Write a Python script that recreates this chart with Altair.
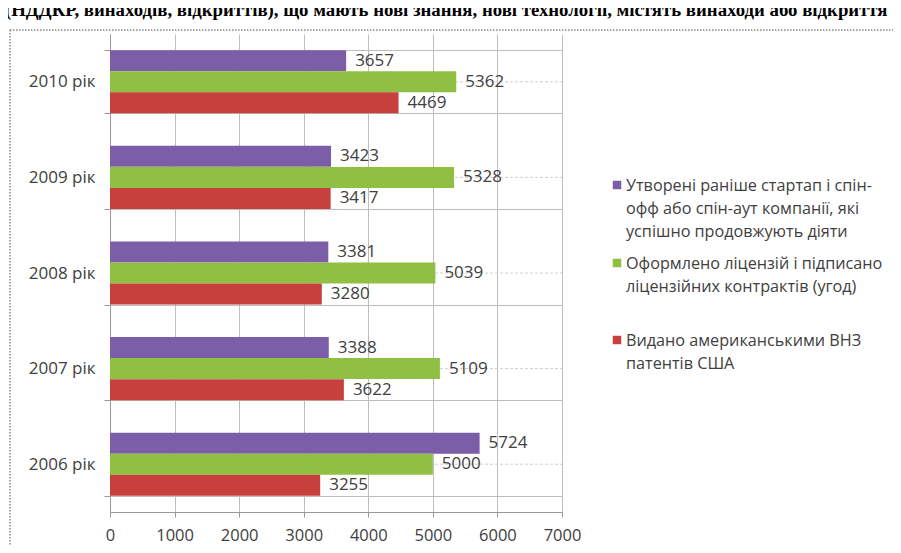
import altair as alt
import pandas as pd

# ---- data ----
years = ["2010 рік", "2009 рік", "2008 рік", "2007 рік", "2006 рік"]
series = [
    "Утворені раніше стартап і спін-офф або спін-аут компанії, які успішно продовжують діяти",
    "Оформлено ліцензій і підписано ліцензійних контрактів (угод)",
    "Видано американськими ВНЗ патентів США",
]
legend_lines = [
    ["Утворені раніше стартап і спін-", "офф або спін-аут компанії, які", "успішно продовжують діяти"],
    ["Оформлено ліцензій і підписано", "ліцензійних контрактів (угод)"],
    ["Видано американськими ВНЗ", "патентів США"],
]
startups = [3657, 3423, 3381, 3388, 5724]
licenses = [5362, 5328, 5039, 5109, 5000]
patents = [4469, 3417, 3280, 3622, 3255]
x_ticks = [0, 1000, 2000, 3000, 4000, 5000, 6000, 7000]
title_text = "(НДДКР, винаходів, відкриттів), що мають нові знання, нові технології, містять винаходи або відкриття"
colors = ["#7C5DA8", "#8FBF43", "#C8403D"]

rows = []
for i, y in enumerate(years):
    for s, vals in zip(series, [startups, licenses, patents]):
        rows.append({"year": y, "series": s, "value": vals[i]})
df = pd.DataFrame(rows)
df_years = pd.DataFrame({"year": years})
one = pd.DataFrame({"a": [0]})

W, H = 452, 478
FONT = "Open Sans"
TXT = "#404040"

y_enc = alt.Y(
    "year:N", sort=years, title=None,
    scale=alt.Scale(paddingInner=0.34, paddingOuter=0.17),
    axis=alt.Axis(
        tickBand="extent", grid=True, gridColor="#bdbdbd", gridWidth=1,
        domainColor="#9a9a9a", tickColor="#9a9a9a", tickSize=6,
        labelPadding=9, labelFont=FONT, labelFontSize=17, labelColor=TXT,
    ),
)
x_enc = alt.X(
    "value:Q", title=None,
    scale=alt.Scale(domain=[0, 7000], nice=False),
    axis=alt.Axis(
        values=x_ticks, grid=True, gridColor="#bdbdbd", gridWidth=1,
        domainColor="#9a9a9a", tickColor="#9a9a9a", tickSize=5,
        labelPadding=10, labelFont=FONT, labelFontSize=16.5, labelColor=TXT,
        labelFlush=False, labelOverlap=False, format="d",
    ),
)
yoff = alt.YOffset("series:N", sort=series, scale=alt.Scale(paddingInner=0, paddingOuter=0))

center_rules = alt.Chart(df_years).mark_rule(color="#cfcfcf", strokeDash=[3, 2]).encode(
    y=y_enc, x=alt.value(0), x2=alt.value(W)
)

bars = alt.Chart(df).mark_bar(size=21).encode(
    y=y_enc,
    x=x_enc,
    yOffset=yoff,
    color=alt.Color("series:N", scale=alt.Scale(domain=series, range=colors), legend=None),
)

labels = alt.Chart(df).mark_text(
    align="left", baseline="middle", dx=9, font=FONT, fontSize=17, color=TXT
).encode(
    y=alt.Y("year:N", sort=years),
    x=alt.X("value:Q"),
    yOffset=alt.YOffset("series:N", sort=series),
    text=alt.Text("value:Q", format="d"),
)

title = alt.Chart(one).mark_text(
    text=title_text, align="left", baseline="alphabetic",
    font="Liberation Serif", fontWeight="bold", fontSize=18.8, color="#000000",
).encode(x=alt.value(-105), y=alt.value(-18))

border_v = alt.Chart(one).mark_rule(color="#8a8a8a", strokeDash=[1.5, 1.5], strokeWidth=1.5).encode(
    x=alt.value(-100), y=alt.value(-4), y2=alt.value(530)
)
border_h = alt.Chart(one).mark_rule(color="#8a8a8a", strokeDash=[1.5, 1.5], strokeWidth=1.5).encode(
    x=alt.value(-100), x2=alt.value(800), y=alt.value(-4)
)

legend_layers = []
legend_y = [151, 229, 306]
for lines, c, ly in zip(legend_lines, colors, legend_y):
    legend_layers.append(
        alt.Chart(one).mark_square(size=72, color=c, opacity=1).encode(
            x=alt.value(507), y=alt.value(ly)
        )
    )
    legend_layers.append(
        alt.Chart(one).mark_text(
            text=lines, align="left", baseline="alphabetic", lineHeight=23,
            font=FONT, fontSize=16.2, color=TXT,
        ).encode(x=alt.value(516), y=alt.value(ly + 6))
    )

chart = alt.layer(center_rules, bars, labels, title, border_v, border_h, *legend_layers).properties(
    width=W, height=H,
    autosize=alt.AutoSizeParams(type="none"),
    padding={"left": 102, "top": 26, "right": 331, "bottom": 33},
    background="white",
).configure_view(stroke=None)

chart.save("out.html", embed_options={"renderer": "svg", "actions": False})
